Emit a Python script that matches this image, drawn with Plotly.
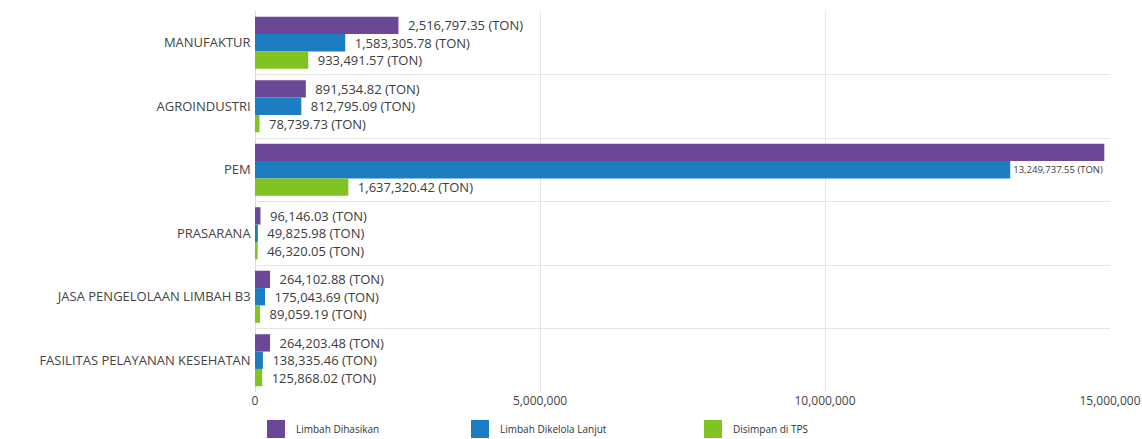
import plotly.graph_objects as go

categories = ["MANUFAKTUR", "AGROINDUSTRI", "PEM", "PRASARANA",
              "JASA PENGELOLAAN LIMBAH B3", "FASILITAS PELAYANAN KESEHATAN"]
series_names = ["Limbah Dihasikan", "Limbah Dikelola Lanjut", "Disimpan di TPS"]
limbah_dihasilkan = [2516797.35, 891534.82, 14900000.00, 96146.03, 264102.88, 264203.48]
limbah_dikelola = [1583305.78, 812795.09, 13249737.55, 49825.98, 175043.69, 138335.46]
disimpan_tps = [933491.57, 78739.73, 1637320.42, 46320.05, 89059.19, 125868.02]
# labels as shown in the reference (the PEM "Limbah Dihasikan" label is not visible there)
labels_dihasilkan = ["2,516,797.35 (TON)", "891,534.82 (TON)", "", "96,146.03 (TON)",
                     "264,102.88 (TON)", "264,203.48 (TON)"]
labels_dikelola = [f"{v:,.2f} (TON)" for v in limbah_dikelola]
labels_tps = [f"{v:,.2f} (TON)" for v in disimpan_tps]
colors = ["#6b4797", "#1c7dc3", "#80c322"]
tick_vals = [0, 5000000, 10000000, 15000000]
tick_text = ["0", "5,000,000", "10,000,000", "15,000,000"]

W, H = 1142, 439
ML, MR, MT, MB = 255, 32, 11, 47
X_MAX = 15000000

fig = go.Figure()
legend_ids = ["legend", "legend2", "legend3"]
for name, vals, labs, col, lg in zip(series_names,
                                     [limbah_dihasilkan, limbah_dikelola, disimpan_tps],
                                     [labels_dihasilkan, labels_dikelola, labels_tps],
                                     colors, legend_ids):
    # long bars leave little room for the outside label: shrink those labels so they fit
    sizes = [9.5 if v > 0.8 * X_MAX else 13 for v in vals]
    texts = [t if (not t or v > 0.8 * X_MAX) else "\u2002" + t for t, v in zip(labs, vals)]
    fig.add_trace(go.Bar(
        y=categories, x=vals, name=name, orientation="h", legendgroup=name,
        marker=dict(color=col, line=dict(width=0)),
        text=texts, textposition="outside", cliponaxis=True, constraintext="none",
        textfont=dict(size=sizes, color="#3c3c3c", family="Open Sans"),
        showlegend=False, hoverinfo="x+y",
    ))
    # legend swatch (larger square like the reference legend)
    fig.add_trace(go.Scatter(
        x=[None], y=[None], mode="markers", name=name, legendgroup=name, legend=lg,
        marker=dict(symbol="square", size=16, color=col, line=dict(color=col, width=2)),
        showlegend=True, hoverinfo="skip",
    ))

pw = W - ML - MR
def lx(px):
    return (px - ML) / pw

leg_common = dict(orientation="h", yref="container", y=(H - 429) / H, yanchor="middle",
                  xanchor="left", font=dict(size=10, color="#333333", family="Open Sans"),
                  itemwidth=30, bgcolor="rgba(0,0,0,0)", borderwidth=0)

fig.update_layout(
    width=W, height=H,
    margin=dict(l=ML, r=MR, t=MT, b=MB, autoexpand=False),
    paper_bgcolor="white", plot_bgcolor="white",
    barmode="group", bargap=0.18, bargroupgap=0,
    font=dict(family="Open Sans", size=12, color="#444444"),
    legend=dict(x=lx(256), **leg_common),
    legend2=dict(x=lx(460), **leg_common),
    legend3=dict(x=lx(693), **leg_common),
    xaxis=dict(range=[0, X_MAX], tickvals=tick_vals, ticktext=tick_text,
               showgrid=True, gridcolor="#e6e6e6", zeroline=True, zerolinecolor="#dcdcdc",
               zerolinewidth=1, ticklabeloverflow="allow", automargin=False,
               tickfont=dict(size=12, color="#444444"), fixedrange=True),
    yaxis=dict(autorange="reversed", tickson="boundaries", showgrid=True,
               gridcolor="#e6e6e6", ticks="", ticksuffix=" ", automargin=False,
               tickfont=dict(size=13, color="#444444")),
)
fig.write_html("out.html")
